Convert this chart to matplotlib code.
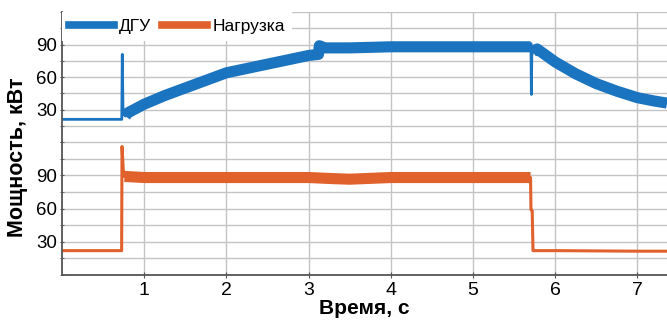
import numpy as np
import matplotlib
matplotlib.use("Agg")
import matplotlib.pyplot as plt
from matplotlib.ticker import MultipleLocator, FixedLocator

plt.rcParams['font.family'] = ['Liberation Sans', 'DejaVu Sans']

# ---- data ----
dgu_t = [0.0, 0.72, 0.727, 0.733, 0.742, 0.77, 0.8, 0.9, 1.0, 1.25, 1.5, 1.75, 2.0,
         2.25, 2.5, 2.75, 3.0, 3.12, 3.13, 3.2, 3.5, 4.0, 4.5, 5.0, 5.5, 5.70,
         5.705, 5.71, 5.715, 5.73, 5.78, 6.0, 6.25, 6.5, 6.75, 7.0, 7.2, 7.36]
dgu_p = [21, 21, 21, 81, 27, 24, 27, 31, 35, 43, 50, 57, 64,
         68, 72, 76, 80, 81, 89, 87, 87, 88, 88, 88, 88, 88,
         91, 44, 80, 84, 86, 74, 63, 54, 47, 41, 38, 36]

load_t = [0.0, 0.725, 0.73, 0.745, 0.76, 1.0, 2.0, 3.0, 3.3, 3.5, 4.0, 5.0,
          5.70, 5.705, 5.72, 5.73, 6.0, 7.0, 7.36]
load_p = [22, 22, 116, 95, 89, 88, 88, 88, 87, 86.5, 88, 88,
          88, 59, 58, 22, 22, 21.5, 21.5]

labels = ['ДГУ', 'Нагрузка']
x_ticks = [1, 2, 3, 4, 5, 6, 7]
y_ticks = [30, 60, 90]

blue = '#1b74bf'
orange = '#e0612b'
grid_c = '#c4c4c4'
spine_c = '#555555'

dgu_t = np.array(dgu_t); dgu_p = np.array(dgu_p)
load_t = np.array(load_t); load_p = np.array(load_p)

fig = plt.figure(figsize=(6.67, 3.2), dpi=100)
ax1 = fig.add_axes([0.093, 0.556, 0.907, 0.406])
ax2 = fig.add_axes([0.093, 0.1406, 0.907, 0.4154])

for ax in (ax1, ax2):
    ax.set_xlim(0, 7.36)
    ax.set_ylim(0, 120)
    ax.xaxis.set_major_locator(FixedLocator(x_ticks))
    ax.yaxis.set_major_locator(FixedLocator(y_ticks))
    ax.yaxis.set_minor_locator(MultipleLocator(15))
    ax.grid(True, which='both', axis='y', color=grid_c, lw=1.0)
    ax.grid(True, which='major', axis='x', color=grid_c, lw=1.0)
    ax.set_axisbelow(True)
    for s in ('top', 'right', 'bottom'):
        ax.spines[s].set_visible(False)
    ax.spines['left'].set_color(spine_c)
    ax.spines['left'].set_linewidth(1.3)
    ax.tick_params(axis='y', which='both', direction='inout', length=3,
                   color=spine_c, labelsize=13.5, pad=2)
    ax.tick_params(axis='x', direction='inout', length=4, color=spine_c,
                   labelsize=14, pad=3)

ax1.tick_params(axis='x', bottom=False, labelbottom=False)
ax2.spines['bottom'].set_visible(True)
ax2.spines['bottom'].set_color(spine_c)
ax2.spines['bottom'].set_linewidth(1.3)

# DGU: thin full trace plus thick noisy band
ax1.plot(dgu_t, dgu_p, color=blue, lw=2.0)
i0, i1 = np.searchsorted(dgu_t, 0.77), np.searchsorted(dgu_t, 5.70)
i2 = np.searchsorted(dgu_t, 5.73)
ax1.plot(dgu_t[i0:i1 + 1], dgu_p[i0:i1 + 1], color=blue, lw=8,
         solid_capstyle='butt', solid_joinstyle='round')
ax1.plot(dgu_t[i2:], dgu_p[i2:], color=blue, lw=8,
         solid_capstyle='butt', solid_joinstyle='round')

ax2.plot(load_t, load_p, color=orange, lw=2.2)
j0, j1 = np.searchsorted(load_t, 0.76), np.searchsorted(load_t, 5.70)
ax2.plot(load_t[j0:j1 + 1], load_p[j0:j1 + 1], color=orange, lw=8,
         solid_capstyle='butt', solid_joinstyle='round')

h1, = ax1.plot([], [], color=blue, lw=5.5)
h2, = ax1.plot([], [], color=orange, lw=5.5)
leg = ax1.legend([h1, h2], labels, loc='upper left', ncol=2, fontsize=12.5,
                 frameon=True, fancybox=False, framealpha=1, facecolor='white',
                 edgecolor='none', borderaxespad=0.0, borderpad=0.4,
                 handlelength=2.6, handletextpad=0.3, columnspacing=0.6)
leg.set_zorder(10)

ax2.set_xlabel('Время, с', fontsize=15, fontweight='bold', labelpad=0)
fig.text(0.026, 1 - 157 / 320, 'Мощность, кВт', rotation=90, fontsize=15.5,
         fontweight='bold', ha='center', va='center')

fig.savefig('out.png', dpi=100)
